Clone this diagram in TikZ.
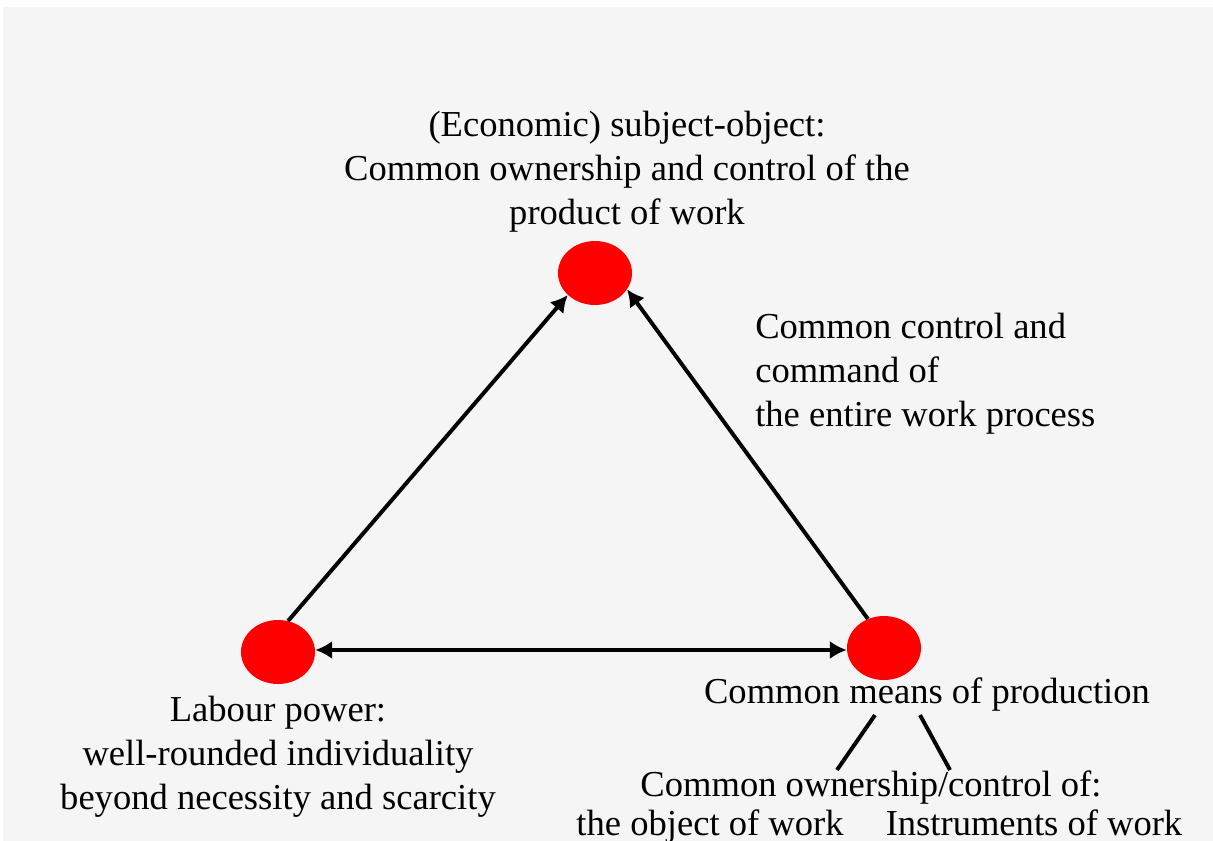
\documentclass[tikz,border=0pt]{standalone}
\usepackage{fontspec}
\setmainfont{Liberation Serif}
\usetikzlibrary{shapes.geometric, arrows.meta, positioning}
\definecolor{bggray}{RGB}{245,245,245}
\definecolor{dotred}{RGB}{255,0,0}

\begin{document}
\begin{tikzpicture}[x=0.025cm, y=-0.025cm,
    dot/.style={ellipse, fill=dotred, minimum width=1.85cm, minimum height=1.6cm, inner sep=0pt},
    lbl/.style={font=\fontsize{26}{31.3}\selectfont, inner sep=0pt},
    arr/.style={line width=2.8pt, -{Latex[length=12pt,width=13pt]}},
    dblarr/.style={line width=2.8pt, {Latex[length=12pt,width=13pt]}-{Latex[length=12pt,width=13pt]}},
    stroke/.style={line width=2.8pt}]
    \useasboundingbox (0,0) rectangle (1213,841);
    \fill[bggray] (3,7) rectangle (1213,841);

    % the three corners
    \node[dot] (work) at (595,273) {};
    \node[dot] (labour) at (278,652) {};
    \node[dot] (means) at (884,648) {};

    % texts
    \node[lbl, align=center] (worktxt) at (627,172) {(Economic) subject-object:\\ Common ownership and control of the\\ product of work};
    \node[lbl, align=left, anchor=west] (controltxt) at (755,374) {Common control and\\ command of\\ the entire work process};
    \node[lbl, align=center] (labourtxt) at (278,757) {Labour power:\\ well-rounded individuality\\ beyond necessity and scarcity};
    \node[lbl, anchor=base] (meanstxt) at (927,703) {Common means of production};
    \node[lbl, anchor=base] (owntxt) at (871,796) {Common ownership/control of:};
    \node[lbl, anchor=base] (objtxt) at (710,835) {the object of work};
    \node[lbl, anchor=base] (insttxt) at (1034,835) {Instruments of work};

    % arrows
    \draw[arr] (labour.72) -- (work.219);
    \draw[arr] (means.119) -- (work.333);
    \draw[dblarr] (labour.east |- 0,650) -- (means.west |- 0,650);

    % split of the means of production
    \draw[stroke] ([xshift=-1.3cm,yshift=-0.1cm]meanstxt.south) -- ([xshift=-0.85cm]owntxt.north);
    \draw[stroke] ([xshift=-0.175cm,yshift=-0.1cm]meanstxt.south) -- ([xshift=1.975cm]owntxt.north);
\end{tikzpicture}
\end{document}
